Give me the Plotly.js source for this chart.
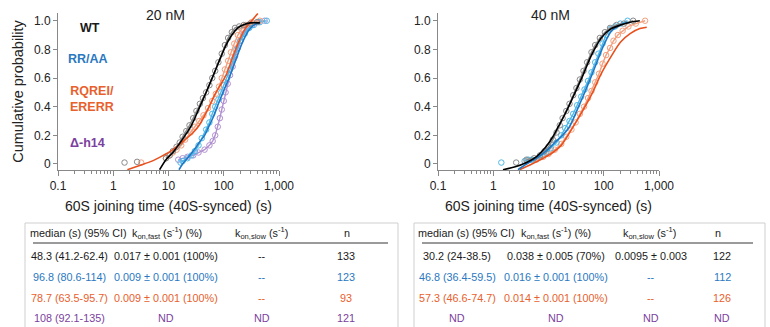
<!DOCTYPE html>
<html><head><meta charset="utf-8">
<script src="https://cdn.plot.ly/plotly-3.0.1.min.js"></script>
<style>html,body{margin:0;padding:0;background:#fff}#chart{width:770px;height:327px}</style>
</head><body><div id="chart"></div>
<script>
// ---------- DATA ----------
// 20 nM, empirical cumulative probabilities (time s, probability); null = isolated early points
const wt20_t   = [1.6,null,2.7,null,9,10.5,12,14,16,18,21,24,28,32,37,42,48,55,62,70,80,92,105,120,140,160,190,230,300,400];
const wt20_p   = [0.01,null,0.015,null,0.04,0.06,0.09,0.12,0.15,0.19,0.23,0.27,0.32,0.37,0.42,0.46,0.5,0.55,0.6,0.65,0.71,0.77,0.83,0.88,0.92,0.95,0.96,0.97,0.98,0.99];
const rr20_t   = [16.5,18,22,26,30,35,40,48,55,62,70,80,90,100,115,130,150,170,200,240,290,350,450,600];
const rr20_p   = [0.01,0.02,0.04,0.06,0.09,0.13,0.18,0.24,0.29,0.35,0.4,0.45,0.5,0.55,0.6,0.66,0.73,0.8,0.86,0.91,0.95,0.97,0.99,1.0];
const rq20_t   = [3.2,null,9,10.5,12,14,17,20,25,30,36,43,52,62,72,82,92,105,120,135,155,180,210,250,320,450];
const rq20_p   = [0.01,null,0.04,0.06,0.08,0.1,0.13,0.17,0.22,0.26,0.3,0.34,0.39,0.44,0.49,0.54,0.6,0.66,0.72,0.78,0.84,0.9,0.94,0.97,0.99,1.0];
const dh20_t   = [15,18,22,28,35,45,55,63,70,78,85,92,100,108,118,130,145,160,180,200,230,270,330,420,550];
const dh20_p   = [0.03,0.04,0.05,0.06,0.08,0.1,0.13,0.16,0.2,0.26,0.32,0.38,0.44,0.5,0.56,0.62,0.68,0.75,0.81,0.86,0.91,0.95,0.97,0.99,1.0];
// 20 nM, fitted curves
const wt20fit_t = [6.9,9,12,15,20,26,35,48,65,85,110,140,180,240,300,450];
const wt20fit_p = [-0.04,0.03,0.08,0.13,0.2,0.27,0.38,0.5,0.62,0.73,0.83,0.9,0.95,0.975,0.985,0.985];
const rr20fit_t = [15.5,18,22,28,36,45,52,65,80,97,128,170,213,280,350,450];
const rr20fit_p = [-0.04,0.0,0.04,0.09,0.15,0.2,0.25,0.33,0.42,0.5,0.61,0.74,0.84,0.93,0.97,0.99];
const rq20fit_t = [1.8,3,5,8,11,14,20,28,36,50,70,90,113,150,195,250,320,414];
const rq20fit_p = [-0.04,-0.01,0.02,0.06,0.09,0.12,0.17,0.22,0.27,0.37,0.49,0.56,0.63,0.76,0.87,0.95,1.0,1.05];
// 40 nM, empirical
const wt40_t   = [2.6,null,4,5.5,7,8.5,10,12,14,16,18,21,24,28,32,37,43,50,60,70,85,105,130,170,230,340];
const wt40_p   = [0.01,null,0.03,0.04,0.06,0.09,0.12,0.17,0.22,0.27,0.32,0.37,0.42,0.48,0.53,0.59,0.65,0.71,0.78,0.83,0.88,0.92,0.95,0.97,0.98,1.0];
const rr40_t   = [1.4,null,3.7,4.3,5,7,9,11,14,17,20,24,28,33,39,45,52,60,70,80,95,110,130,160,200,270];
const rr40_p   = [0.01,null,0.02,0.03,0.03,0.05,0.08,0.11,0.15,0.2,0.25,0.3,0.35,0.41,0.47,0.52,0.58,0.64,0.71,0.77,0.84,0.9,0.94,0.96,0.98,1.0];
const rq40_t   = [4,6,8,10,13,17,21,26,31,37,44,52,60,70,82,95,110,130,150,180,220,280,380,560];
const rq40_p   = [0.02,0.03,0.05,0.07,0.1,0.14,0.19,0.24,0.29,0.35,0.4,0.46,0.51,0.57,0.63,0.7,0.76,0.81,0.86,0.9,0.93,0.96,0.98,1.0];
// 40 nM, fitted curves
const wt40fit_t = [1.5,2.5,4,6,9,12,15,20,28,41,60,90,130,200,300,450];
const wt40fit_p = [-0.04,-0.02,0.01,0.05,0.12,0.19,0.26,0.35,0.47,0.61,0.76,0.88,0.94,0.97,0.99,1.0];
const rr40fit_t = [2.8,4,6,9,13,18,24,35,50,70,100,139,200,270];
const rr40fit_p = [-0.04,0.0,0.04,0.09,0.15,0.2,0.26,0.4,0.54,0.68,0.83,0.93,0.97,0.99];
const rq40fit_t = [3,5,8,12,17,27,40,63,90,146,200,300,450,600];
const rq40fit_p = [-0.04,0.0,0.04,0.08,0.13,0.25,0.36,0.5,0.63,0.77,0.85,0.91,0.945,0.955];

// axis ticks
const xTickVals = [0.1,1,10,100,1000];
const xTickText = ['0.1','1','10','100','1,000'];
const xMinorVals = [0.2,0.3,0.4,0.5,0.6,0.7,0.8,0.9,2,3,4,5,6,7,8,9,20,30,40,50,60,70,80,90,200,300,400,500,600,700,800,900];
const yTickVals = [0,0.2,0.4,0.6,0.8,1.0];
const yTickText = ['0','0.2','0.4','0.6','0.8','1.0'];

// legend labels
const seriesNames = ['WT','RR/AA','RQREI/<br>ERERR','Δ-h14'];

// tables
const tableHeader = ['median (s) (95% CI)','k<sub>on,fast</sub> (s<sup>-1</sup>) (%)','k<sub>on,slow</sub> (s<sup>-1</sup>)','n'];
const table20 = [
  ['48.3 (41.2-62.4)','0.017 ± 0.001 (100%)','--','133'],
  ['96.8 (80.6-114)','0.009 ± 0.001 (100%)','--','123'],
  ['78.7 (63.5-95.7)','0.009 ± 0.001 (100%)','--','93'],
  ['108 (92.1-135)','ND','ND','121']
];
const table40 = [
  ['30.2 (24-38.5)','0.038 ± 0.005 (70%)','0.0095 ± 0.003','122'],
  ['46.8 (36.4-59.5)','0.016 ± 0.001 (100%)','--','112'],
  ['57.3 (46.6-74.7)','0.014 ± 0.001 (100%)','--','126'],
  ['ND','ND','ND','ND']
];

// ---------- STYLE ----------
const W = 770, H = 327;
const FONT = 'Liberation Sans, Arial, sans-serif';
const textCol = ['#1a1a1a','#2a78bf','#e8602c','#7b3f9e'];
const lineCol = ['#000000','#1f77c4','#e8501e'];
const dotCol  = ['#8a8a8a','#4db8e8','#f3a07e','#b08fd0'];
const px = x => x / W;
const py = y => 1 - y / H;

function dots(t, p, c, ax) {
  return {x: t, y: p, xaxis: ax[0], yaxis: ax[1], type: 'scatter', mode: 'lines+markers',
    connectgaps: false,
    line: {color: c, width: 1.4},
    marker: {symbol: 'circle-open', size: 5.5, color: c, line: {width: 1, color: c}},
    hoverinfo: 'skip', showlegend: false};
}
function fit(t, p, c, ax) {
  return {x: t, y: p, xaxis: ax[0], yaxis: ax[1], type: 'scatter', mode: 'lines',
    line: {color: c, width: 1.6, shape: 'spline', smoothing: 0.8},
    hoverinfo: 'skip', showlegend: false};
}
const A1 = ['x','y'], A2 = ['x2','y2'];
const traces = [
  dots(dh20_t, dh20_p, dotCol[3], A1),
  dots(rr20_t, rr20_p, dotCol[1], A1),
  dots(rq20_t, rq20_p, dotCol[2], A1),
  dots(wt20_t, wt20_p, dotCol[0], A1),
  fit(rr20fit_t, rr20fit_p, lineCol[1], A1),
  fit(rq20fit_t, rq20fit_p, lineCol[2], A1),
  fit(wt20fit_t, wt20fit_p, lineCol[0], A1),
  dots(rq40_t, rq40_p, dotCol[2], A2),
  dots(rr40_t, rr40_p, dotCol[1], A2),
  dots(wt40_t, wt40_p, dotCol[0], A2),
  fit(rq40fit_t, rq40fit_p, lineCol[2], A2),
  fit(rr40fit_t, rr40fit_p, lineCol[1], A2),
  fit(wt40fit_t, wt40fit_p, lineCol[0], A2)
];

const xTitle = {text: '60S joining time (40S-synced) (s)', font: {size: 14, color: '#222'}, standoff: 8};
function xaxis(dom, anchor) {
  return {type: 'log', domain: dom, range: [-1, 3], automargin: false, anchor: anchor,
    showline: true, linecolor: '#888', linewidth: 1, zeroline: false, showgrid: false,
    ticks: 'outside', ticklen: 5, tickcolor: '#888', tickwidth: 1,
    tickmode: 'array', tickvals: xTickVals, ticktext: xTickText,
    tickfont: {size: 12, color: '#222'},
    minor: {tickmode: 'array', tickvals: xMinorVals, ticks: 'outside', ticklen: 3, tickcolor: '#888', showgrid: false},
    title: xTitle};
}
function yaxis(dom, anchor, withTitle) {
  const a = {domain: dom, range: [-0.042, 1.054], automargin: false,
    showline: true, linecolor: '#888', linewidth: 1, zeroline: false, showgrid: false,
    ticks: 'outside', ticklen: 4, tickcolor: '#888',
    tickmode: 'array', tickvals: yTickVals, ticktext: yTickText,
    tickfont: {size: 12, color: '#222'}, anchor: anchor};
  if (withTitle) a.title = {text: 'Cumulative probability', font: {size: 14.5, color: '#222'}, standoff: 6};
  return a;
}
const yDom = [py(170), py(13)];

const annotations = [];
const shapes = [];
function txt(x, y, s, size, color) {
  annotations.push({xref: 'paper', yref: 'paper', x: px(x), y: py(y), text: s,
    showarrow: false, xanchor: 'center', yanchor: 'middle',
    font: {size: size, color: color, family: FONT}});
}
txt(165, 15, '20 nM', 14, '#222');
txt(550, 15, '40 nM', 14, '#222');
// series labels
txt(90, 28, '<b>' + seriesNames[0] + '</b>', 12.5, textCol[0]);
txt(88, 59, '<b>' + seriesNames[1] + '</b>', 12.5, textCol[1]);
txt(92, 99, '<b>' + seriesNames[2] + '</b>', 12.5, textCol[2]);
txt(87, 143, '<b>' + seriesNames[3] + '</b>', 12.5, textCol[3]);

// tables
const rowY = [256, 277, 298, 318];
function table(x0, x1, lx0, lx1, hdrX, colX, rows) {
  shapes.push({type: 'rect', xref: 'paper', yref: 'paper', x0: px(x0), x1: px(x1), y0: py(335), y1: py(223),
    line: {color: '#cfcfcf', width: 1}, fillcolor: 'rgba(0,0,0,0)'});
  shapes.push({type: 'line', xref: 'paper', yref: 'paper', x0: px(lx0), x1: px(lx1), y0: py(243), y1: py(243),
    line: {color: '#9a9a9a', width: 2}});
  tableHeader.forEach((h, i) => txt(hdrX[i], 233, h, 10.8, '#222'));
  rows.forEach((r, j) => r.forEach((c, i) => txt(colX[i], rowY[j], c, 10.8, textCol[j])));
}
table(25, 398, 33, 388, [78, 167, 261, 347], [69, 166, 262, 346], table20);
table(414, 765, 422, 753, [466, 556, 649, 718], [457, 556, 651, 722], table40);

const layout = {
  width: W, height: H, margin: {l: 0, r: 0, t: 0, b: 0},
  paper_bgcolor: '#fff', plot_bgcolor: 'rgba(0,0,0,0)',
  font: {family: FONT, color: '#222'},
  showlegend: false,
  xaxis: xaxis([px(58), px(279)], 'y'), yaxis: yaxis(yDom, 'x', true),
  xaxis2: xaxis([px(438), px(659)], 'y2'), yaxis2: yaxis(yDom, 'x2', false),
  annotations: annotations, shapes: shapes
};
Plotly.newPlot('chart', traces, layout, {staticPlot: true, displayModeBar: false});
</script></body></html>
